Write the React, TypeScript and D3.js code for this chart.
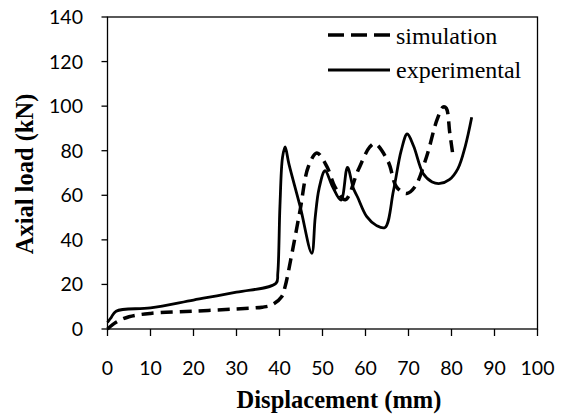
import React from "react";
import * as d3 from "d3";

const xTicks = [0, 10, 20, 30, 40, 50, 60, 70, 80, 90, 100];
const yTicks = [0, 20, 40, 60, 80, 100, 120, 140];

const expX = [0, 0.8, 2, 10, 20, 30, 39.2, 39.6, 40.1, 40.7, 41.3, 42.2, 44.8, 47.5, 48.3, 49.2, 50.6, 52.3, 54.3, 55.8, 57.2, 58.2, 60.3, 62.5, 64.5, 66.5, 68.3, 69.7, 71.2, 73.4, 75.5, 77.3, 79.5, 81.5, 83.2, 84.7];
const expY = [3, 5, 8, 9.5, 13, 16.5, 20.5, 25, 55, 77, 81.7, 74, 55, 34, 50, 63, 71, 64, 57.8, 72.5, 63, 59, 50.4, 46.5, 45.5, 62, 80, 87.5, 82, 69.8, 66, 65.3, 67, 72, 82, 95];

const simX = [0, 2, 5, 10, 20, 30, 36, 38.2, 40.5, 41.3, 42.8, 44.8, 46.7, 48.7, 51, 52.9, 55.3, 58.3, 61, 62.2, 65.3, 67.2, 69.6, 71.5, 74.2, 76.6, 78.1, 78.8, 79.6, 80.4];
const simY = [0, 3, 5.5, 7, 8, 9, 9.8, 10.8, 14.5, 19, 33, 53.4, 72.8, 79, 73, 63.8, 58, 71.3, 81.7, 83.2, 75, 63.8, 60.8, 63.8, 77.3, 93.7, 99.7, 99, 88, 77];

const legendLabels = ["simulation", "experimental"];

export default function App() {
  const W = 565, H = 414;
  const left = 107.5, right = 537.5, top = 17, bottom = 329;
  const x = d3.scaleLinear().domain([0, 100]).range([left, right]);
  const y = d3.scaleLinear().domain([0, 140]).range([bottom, top]);

  const line = d3.line<[number, number]>()
    .x(d => x(d[0]))
    .y(d => y(d[1]))
    .curve(d3.curveCatmullRom.alpha(0.5));

  const expPts: [number, number][] = expX.map((v, i) => [v, expY[i]]);
  const simPts: [number, number][] = simX.map((v, i) => [v, simY[i]]);

  const tickFont = "Lato, 'Open Sans', sans-serif";
  const serif = "'Liberation Serif', 'Times New Roman', serif";

  return (
    <svg width={W} height={H} style={{ position: "absolute", left: 0, top: 0, background: "#fff" }}>
      <rect x={0} y={0} width={W} height={H} fill="#fff" />
      <rect x={left} y={top} width={right - left} height={bottom - top} fill="none" stroke="#000" strokeWidth={1.3} />
      {yTicks.map(t => (
        <g key={"y" + t}>
          <line x1={left - 6} x2={left} y1={y(t)} y2={y(t)} stroke="#000" strokeWidth={1.3} />
          <text x={83} y={y(t)} dy="0.36em" textAnchor="end" fontFamily={tickFont} fontSize={19.5} fill="#000">{t}</text>
        </g>
      ))}
      {xTicks.map(t => (
        <g key={"x" + t}>
          <line x1={x(t)} x2={x(t)} y1={bottom} y2={bottom + 7} stroke="#000" strokeWidth={1.3} />
          <text x={x(t)} y={375} textAnchor="middle" fontFamily={tickFont} fontSize={19.5} fill="#000">{t}</text>
        </g>
      ))}
      <text x={339} y={407.5} textAnchor="middle" fontFamily={serif} fontWeight="bold" fontSize={24.5} fill="#000">Displacement (mm)</text>
      <text transform={`translate(33,174) rotate(-90)`} textAnchor="middle" fontFamily={serif} fontWeight="bold" fontSize={24.5} fill="#000">Axial load (kN)</text>

      <path d={line(simPts) || ""} fill="none" stroke="#000" strokeWidth={3.5} strokeDasharray="12 7" />
      <path d={line(expPts) || ""} fill="none" stroke="#000" strokeWidth={2.8} strokeLinejoin="round" />

      <line x1={328} x2={390} y1={35} y2={35} stroke="#000" strokeWidth={3.5} strokeDasharray="16 7" />
      <text x={396} y={44} fontFamily={serif} fontSize={24} fill="#000">{legendLabels[0]}</text>
      <line x1={328} x2={390} y1={70} y2={70} stroke="#000" strokeWidth={2.8} />
      <text x={396} y={78} fontFamily={serif} fontSize={24} fill="#000">{legendLabels[1]}</text>
    </svg>
  );
}
